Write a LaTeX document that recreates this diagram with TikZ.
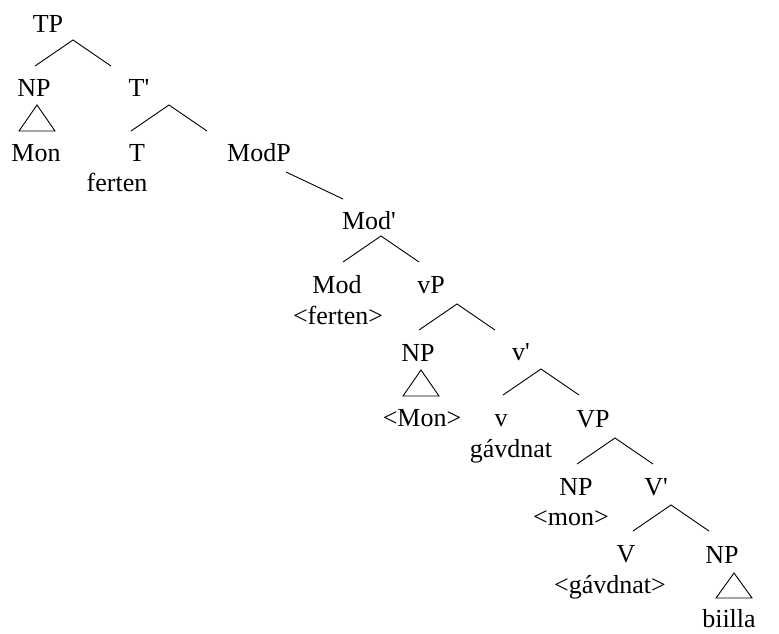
\documentclass[tikz,border=0pt]{standalone}
\usepackage{fontspec}
\setmainfont{Liberation Serif}
\begin{document}
\begin{tikzpicture}[
    x=1pt,y=1pt,
    every node/.style={font=\fontsize{26}{31}\selectfont,anchor=base,inner sep=0pt},
    branch/.style={draw=black,line width=0.9pt},
    roof/.style={draw=black,line width=0.9pt,line join=miter}
]
\useasboundingbox (0,0) rectangle (779,633);
\node (tp) at (48,600) {TP};
\node (np) at (34,536) {NP};
\node (tbar) at (139,536) {T\textquotesingle};
\node (mon) at (36,471) {Mon};
\node (t) at (137,471) {T};
\node (ferten) at (117,441) {ferten};
\node (modp) at (259,471) {ModP};
\node (modbar) at (369,403) {Mod\textquotesingle};
\node (mod) at (337,340) {Mod};
\node (fertentrace) at (338,309) {<ferten>};
\node (littlevp) at (431,340) {vP};
\node (npsubj) at (418,272) {NP};
\node (littlevbar) at (521,273) {v\textquotesingle};
\node (montrace) at (422,207) {<Mon>};
\node (littlev) at (501,207) {v};
\node (gavdnat) at (511,176) {gávdnat};
\node (vp) at (593,206) {VP};
\node (npspec) at (576,138) {NP};
\node (vbar) at (656,138) {V\textquotesingle};
\node (montracelow) at (571,108) {<mon>};
\node (v) at (626,71) {V};
\node (npobj) at (722,70) {NP};
\node (gavdnattrace) at (610,40) {<gávdnat>};
\node (biilla) at (729,6) {biilla};

\draw[branch] ([shift={(1,31)}]np.base) -- ++(38,26) -- ++(38,-26);
\draw[branch] ([shift={(-6,31)}]t.base) -- ++(38,26) -- ++(38,-26);
\draw[branch] ([shift={(27,-10)}]modp.base) -- ([shift={(-26,31)}]modbar.base);
\draw[branch] ([shift={(6,31)}]mod.base) -- ++(38,26) -- ++(38,-26);
\draw[branch] ([shift={(1,31)}]npsubj.base) -- ++(38,26) -- ++(38,-26);
\draw[branch] ([shift={(2,31)}]littlev.base) -- ++(38,26) -- ++(38,-26);
\draw[branch] ([shift={(1,31)}]npspec.base) -- ++(38,26) -- ++(38,-26);
\draw[branch] ([shift={(7,31)}]v.base) -- ++(38,26) -- ++(38,-26);

\draw[roof] ([shift={(3,-8)}]np.base) -- ++(-18,-26) -- ++(36,0) -- cycle;
\draw[roof] ([shift={(3,-9)}]npsubj.base) -- ++(-18,-26) -- ++(36,0) -- cycle;
\draw[roof] ([shift={(12,-10)}]npobj.base) -- ++(-18,-25) -- ++(36,0) -- cycle;
\end{tikzpicture}
\end{document}
